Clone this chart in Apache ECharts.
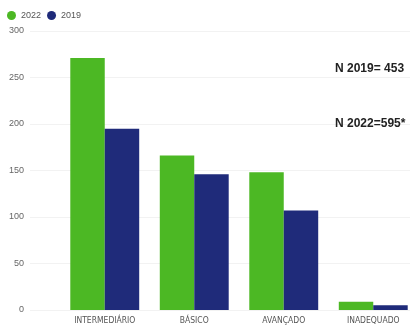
<!DOCTYPE html>
<html><head><meta charset="utf-8">
<script src="https://cdn.jsdelivr.net/npm/echarts@6/dist/echarts.min.js"></script>
<style>html,body{margin:0;padding:0;background:#fff;overflow:hidden}#c{width:418px;height:331px}</style>
</head><body><div id="c"></div>
<script>
const categories = ['INTERMEDIÁRIO', 'BÁSICO', 'AVANÇADO', 'INADEQUADO'];
const values2022 = [271, 166, 148, 9];
const values2019 = [195, 146, 107, 5];
const yTicks = [0, 50, 100, 150, 200, 250, 300];
const notes = ['N 2019= 453', 'N 2022=595*'];

const chart = echarts.init(document.getElementById('c'));
const green = '#4cb824', navy = '#1f2b7a';
const ff = 'DejaVu Sans Condensed, Liberation Sans, Arial';
chart.setOption({
  animation: false,
  legend: {
    left: 2, top: 6, itemWidth: 9, itemHeight: 9, itemGap: 6,
    icon: 'circle',
    textStyle: { fontSize: 9, color: '#555', fontFamily: 'Liberation Sans, Arial' },
    data: ['2022', '2019']
  },
  grid: [
    { left: 30, top: 31, right: 0, bottom: 21 },
    { left: 60, top: 31, right: 0, bottom: 21 }
  ],
  xAxis: [
    { gridIndex: 0, type: 'category', show: false, data: [''] },
    { gridIndex: 1, type: 'category', data: categories,
      axisLine: { show: false }, axisTick: { show: false },
      axisLabel: { fontSize: 8.5, color: '#555', margin: 6, interval: 0, fontFamily: ff } }
  ],
  yAxis: [
    { gridIndex: 0, type: 'value', min: yTicks[0], max: yTicks[yTicks.length - 1], interval: 50,
      axisLine: { show: false }, axisTick: { show: false },
      axisLabel: { fontSize: 9, color: '#666', margin: 6, fontFamily: 'Liberation Sans, Arial' },
      splitLine: { lineStyle: { color: '#f2f2f2', width: 1 } } },
    { gridIndex: 1, type: 'value', min: yTicks[0], max: yTicks[yTicks.length - 1], interval: 50,
      show: false, splitLine: { show: false } }
  ],
  series: [
    { name: '2022', type: 'bar', xAxisIndex: 1, yAxisIndex: 1, data: values2022,
      itemStyle: { color: green }, barGap: '0%', barCategoryGap: '23%' },
    { name: '2019', type: 'bar', xAxisIndex: 1, yAxisIndex: 1, data: values2019,
      itemStyle: { color: navy }, barGap: '0%', barCategoryGap: '23%' }
  ],
  graphic: [
    { type: 'text', left: 335, top: 63, z: 100, style: { text: notes[0], fontSize: 12, fontWeight: 'bold', fill: '#222', fontFamily: 'Liberation Sans, Arial' } },
    { type: 'text', left: 335, top: 118, z: 100, style: { text: notes[1], fontSize: 12, fontWeight: 'bold', fill: '#222', fontFamily: 'Liberation Sans, Arial' } }
  ]
});
</script></body></html>
